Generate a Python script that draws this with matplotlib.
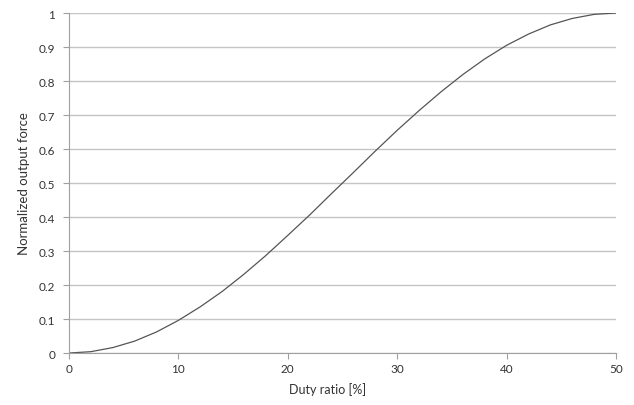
import matplotlib.pyplot as plt

duty = [0, 2, 4, 6, 8, 10, 12, 14, 16, 18, 20, 22, 24, 26,
        28, 30, 32, 34, 36, 38, 40, 42, 44, 46, 48, 50]
force = [0.0, 0.004, 0.016, 0.035, 0.062, 0.096, 0.136, 0.181, 0.232,
         0.287, 0.346, 0.406, 0.469, 0.531, 0.594, 0.655, 0.713, 0.768,
         0.819, 0.865, 0.905, 0.938, 0.965, 0.984, 0.996, 1.0]

xticks = [0, 10, 20, 30, 40, 50]
yticks = [0, 0.1, 0.2, 0.3, 0.4, 0.5, 0.6, 0.7, 0.8, 0.9, 1]
ylabels = ['0', '0.1', '0.2', '0.3', '0.4', '0.5', '0.6', '0.7', '0.8', '0.9', '1']

plt.rcParams['font.family'] = ['Lato', 'DejaVu Sans']

fig = plt.figure(figsize=(6.34, 4.06), dpi=100)
ax = fig.add_axes([0.1088, 0.128, 0.8628, 0.8375])

ax.plot(duty, force, color='#555555', linewidth=0.9)

ax.set_xlim(0, 50)
ax.set_ylim(0, 1)
ax.set_xticks(xticks)
ax.set_yticks(yticks)
ax.set_yticklabels(ylabels)

ax.grid(axis='y', color='#c4c4c4', linewidth=1.0)
ax.set_axisbelow(True)
for s in ['top', 'right']:
    ax.spines[s].set_visible(False)
for s in ['left', 'bottom']:
    ax.spines[s].set_color('#a0a0a0')
ax.tick_params(axis='both', colors='#a0a0a0', length=4, labelsize=8.5,
               labelcolor='#333333')
ax.tick_params(axis='y', pad=6)

ax.set_xlabel('Duty ratio [%]', fontsize=9, color='#333333')
ax.xaxis.set_label_coords(0.472, -0.085)
ax.set_ylabel('Normalized output force', fontsize=9.5, color='#333333', labelpad=6)

fig.savefig('out.png', dpi=100)
